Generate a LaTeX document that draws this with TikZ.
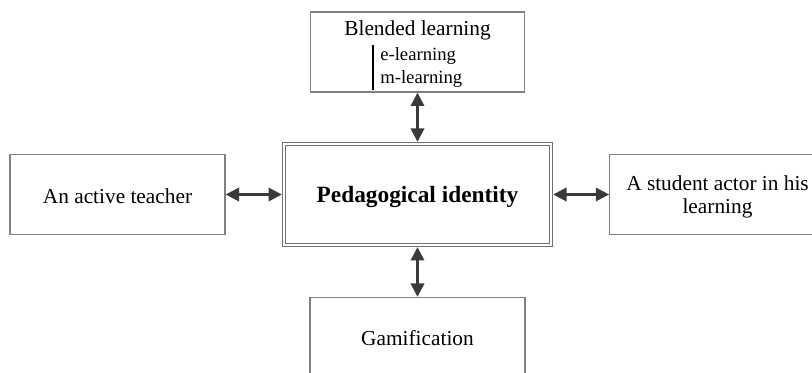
\documentclass[tikz,border=0pt]{standalone}
\usepackage{fontspec}
\setmainfont{Liberation Serif}
\usetikzlibrary{arrows.meta}

\tikzset{every picture/.style={line width=0.75pt}}
\tikzset{
  box/.style={draw={rgb, 255:red, 128; green, 128; blue, 128}, line width=1pt, fill=white,
    align=center, inner sep=0pt, font=\fontsize{16}{17.5}\selectfont},
  link/.style={{Triangle[length=10pt,width=10pt]}-{Triangle[length=10pt,width=10pt]},
    draw={rgb, 255:red, 58; green, 58; blue, 58}, line width=1.8pt}
}

\begin{document}
\begin{tikzpicture}[x=0.75pt,y=0.75pt,yscale=-1,xscale=1]
\useasboundingbox (0,0) rectangle (812,373);
\clip (0,0) rectangle (812,373);

%Shape: Rectangle, double border
\node [box, font=\fontsize{17.5}{18}\selectfont\bfseries, draw={rgb, 255:red, 112; green, 112; blue, 112},
  line width=0.75pt, double=white, double distance=1.5pt, outer sep=1.5pt,
  minimum width=200.5pt, minimum height=76pt] (identity) at (417.5,194.5)
  {\raisebox{-2pt}[\height][\depth]{Pedagogical identity}};
%Shape: Rectangle
\node [box, minimum width=160.5pt, minimum height=60pt] (blended) at (417.5,52)
  {\raisebox{-2pt}[\height][\depth]{\begin{tabular}{@{}c@{}}Blended learning\\[1.5pt]
   {\fontsize{14}{17}\selectfont\setlength{\arrayrulewidth}{1.2pt}%
   \begin{tabular}{|@{\hspace{5pt}}l@{}}e-learning\\m-learning\end{tabular}}\end{tabular}}};
%Shape: Rectangle
\node [box, minimum width=161.25pt, minimum height=60.4pt] (teacher) at (117.5,194.5)
  {\raisebox{-1.5pt}[\height][\depth]{An active teacher}};
%Shape: Rectangle
\node [box, minimum width=161.6pt, minimum height=59.6pt] (student) at (717.5,194.5)
  {\raisebox{-2pt}[\height][\depth]{\begin{tabular}{@{}c@{}}A student actor in his\\learning\end{tabular}}};
%Shape: Rectangle
\node [box, minimum width=161.25pt, minimum height=60.4pt] (gamif) at (417.5,337.75) {Gamification};

% Arrows
\draw [link] (blended) -- (identity);
\draw [link] (teacher) -- (identity);
\draw [link] (identity) -- (student);
\draw [link] (identity) -- (gamif);

\end{tikzpicture}
\end{document}
